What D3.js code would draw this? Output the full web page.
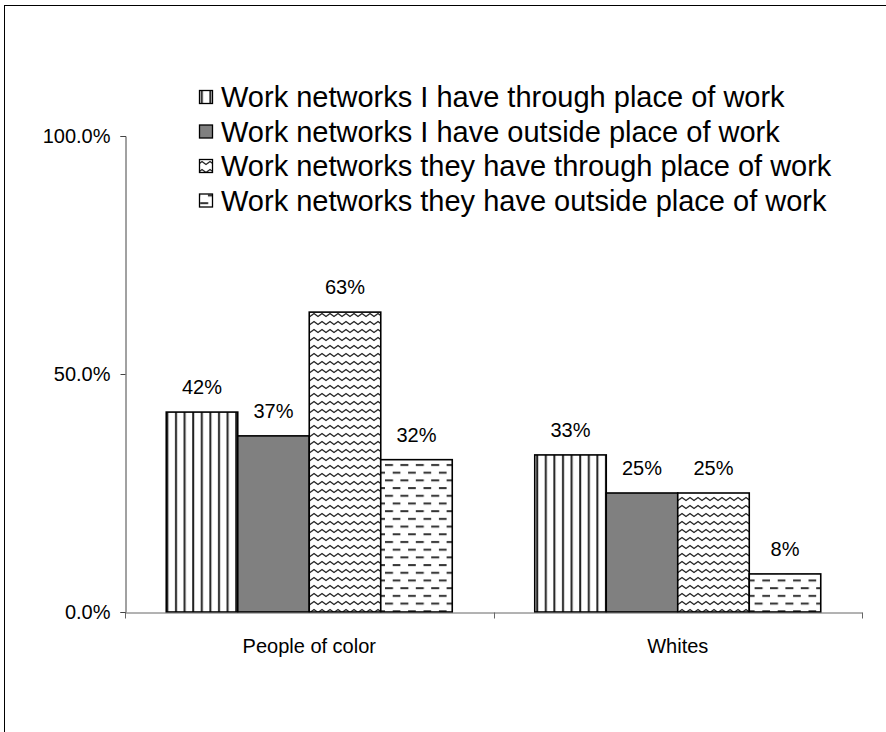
<!DOCTYPE html>
<html><head><meta charset="utf-8">
<script src="https://cdn.jsdelivr.net/npm/d3@7"></script>
<style>html,body{margin:0;padding:0;background:#fff;}svg{display:block;}</style>
</head><body>
<svg id="chart" width="886" height="732"></svg>
<script>
const categories = ["People of color", "Whites"];
const seriesNames = [
  "Work networks I have through place of work",
  "Work networks I have outside place of work",
  "Work networks they have through place of work",
  "Work networks they have outside place of work"
];
const seriesValues = [
  [0.42, 0.33],
  [0.37, 0.25],
  [0.63, 0.25],
  [0.32, 0.08]
];
const valueLabels = [
  ["42%", "33%"],
  ["37%", "25%"],
  ["63%", "25%"],
  ["32%", "8%"]
];
const yTicks = [0, 0.5, 1];
const fills = ["url(#pVert)", "#808080", "url(#pWave)", "url(#pDash)"];

const svg = d3.select("#chart");
const font = "'Liberation Sans', Arial, sans-serif";

// frame
svg.append("rect").attr("x", 4.5).attr("y", 5.5).attr("width", 900).attr("height", 800)
  .attr("fill", "none").attr("stroke", "#000").attr("stroke-width", 1);

// patterns
const defs = svg.append("defs");
const pv = defs.append("pattern").attr("id", "pVert").attr("patternUnits", "userSpaceOnUse")
  .attr("width", 8.6).attr("height", 10);
pv.append("rect").attr("width", 8.6).attr("height", 10).attr("fill", "#fff");
pv.append("rect").attr("x", 3).attr("width", 2).attr("height", 10).attr("fill", "#222");

const pw = defs.append("pattern").attr("id", "pWave").attr("patternUnits", "userSpaceOnUse")
  .attr("width", 8).attr("height", 8);
pw.append("rect").attr("width", 8).attr("height", 8).attr("fill", "#fff");
pw.append("path").attr("d", "M-2,5 L0,3 L2,1.5 L4,3 L6,4.5 L8,3 L10,1.5")
  .attr("fill", "none").attr("stroke", "#222").attr("stroke-width", 1.3);

const pd = defs.append("pattern").attr("id", "pDash").attr("patternUnits", "userSpaceOnUse")
  .attr("width", 15.4).attr("height", 15.4);
pd.append("rect").attr("width", 15.4).attr("height", 15.4).attr("fill", "#fff");
pd.append("rect").attr("x", 0).attr("y", 2).attr("width", 8).attr("height", 2).attr("fill", "#333");
pd.append("rect").attr("x", 7.7).attr("y", 9.7).attr("width", 8).attr("height", 2).attr("fill", "#333");

// scales
const x0 = d3.scaleBand().domain(categories).range([125, 862]).paddingInner(0).paddingOuter(0);
const x1 = d3.scaleBand().domain(d3.range(seriesNames.length)).range([0, x0.bandwidth()])
  .paddingInner(0).paddingOuter(0.577);
const y = d3.scaleLinear().domain([0, 1]).range([612, 136]);

// bars
seriesNames.forEach((s, si) => {
  categories.forEach((c, ci) => {
    const v = seriesValues[si][ci];
    const bx = x0(c) + x1(si);
    svg.append("rect")
      .attr("x", bx).attr("y", y(v))
      .attr("width", x1.bandwidth()).attr("height", y(0) - y(v))
      .attr("fill", fills[si]).attr("stroke", "#000").attr("stroke-width", 1.6);
    svg.append("text")
      .attr("x", bx + x1.bandwidth() / 2).attr("y", y(v) - 18)
      .attr("text-anchor", "middle").attr("font-family", font).attr("font-size", 20)
      .text(valueLabels[si][ci]);
  });
});

// y axis
const yAxis = d3.axisLeft(y).tickValues(yTicks).tickFormat(d3.format(".1%")).tickSize(5).tickPadding(10);
const gy = svg.append("g").attr("transform", "translate(125.5,0)").call(yAxis);
gy.select(".domain").attr("stroke", "#444");
gy.selectAll(".tick line").attr("stroke", "#444");
gy.selectAll("text").attr("font-family", font).attr("font-size", 20).attr("fill", "#000");

// x axis
const xAxis = d3.axisBottom(x0).tickSize(0).tickPadding(32);
const gx = svg.append("g").attr("transform", "translate(0,612.5)").call(xAxis);
gx.select(".domain").attr("stroke", "#666");
gx.selectAll("text").attr("font-family", font).attr("font-size", 20).attr("fill", "#000").attr("dy", "0.4em");
// category boundary ticks
const bounds = [x0(categories[0]), x0(categories[1]), x0(categories[1]) + x0.bandwidth()];
gx.selectAll(".btick").data(bounds).enter().append("line")
  .attr("x1", d => Math.round(d) + 0.5).attr("x2", d => Math.round(d) + 0.5)
  .attr("y1", 0).attr("y2", 6).attr("stroke", "#666");

// legend
const lg = svg.append("g");
seriesNames.forEach((s, i) => {
  const ly = 97 + i * 34.5;
  lg.append("rect").attr("x", 199.5).attr("y", ly - 6.5).attr("width", 13).attr("height", 13)
    .attr("fill", fills[i]).attr("stroke", "#000").attr("stroke-width", 1.3);
  lg.append("text").attr("x", 221).attr("y", ly + 10.3)
    .attr("font-family", font).attr("font-size", 29).text(s);
});
</script>
</body></html>
